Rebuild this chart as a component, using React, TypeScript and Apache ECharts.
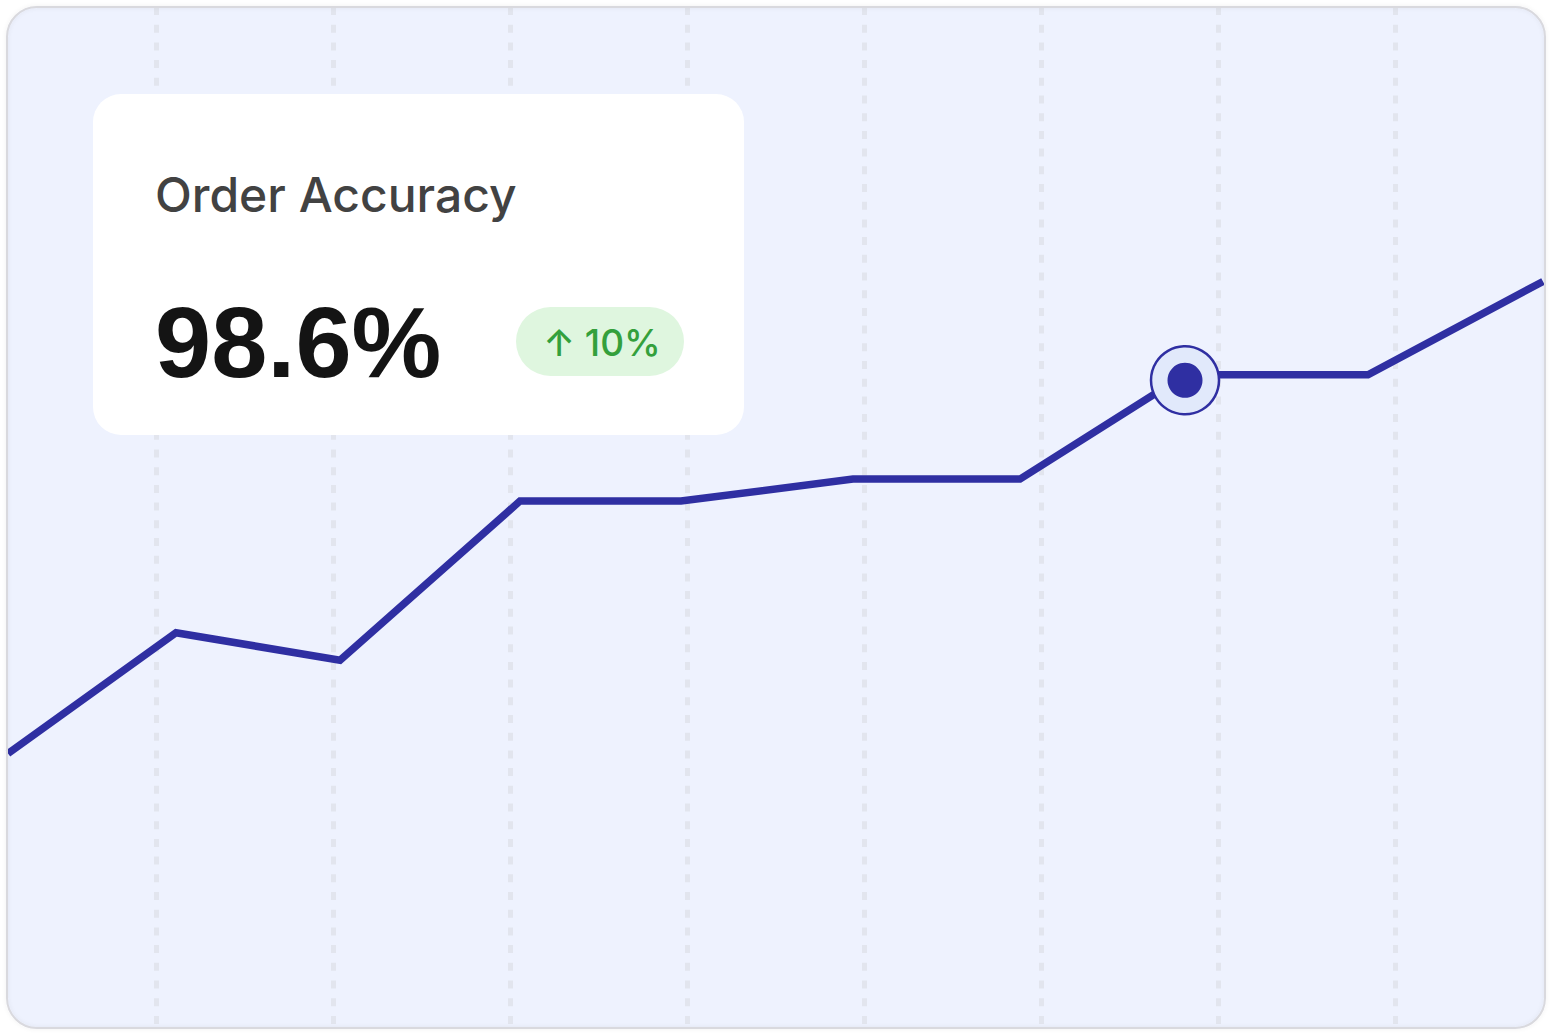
import * as echarts from 'echarts';
import { useEffect, useRef } from 'react';

// x position of each sample along the track, and the accuracy (%) at that point
const xs = [0, 168, 332, 512, 673, 845, 1012, 1177, 1360, 1535];
const accuracy = [90.0, 92.2, 91.7, 94.6, 94.6, 95.0, 95.0, 96.9, 96.9, 98.6];

// highlighted (hovered) sample
const highlightX = [1177];
const highlightY = [96.8];

// KPI card
const kpiTitle = 'Order Accuracy';
const kpiValue = '98.6%';
const kpiDelta = '↑ 10%';

const LINE = '#2F2FA2';

const App: React.FC = () => {
  const chartRef = useRef<HTMLDivElement>(null);

  useEffect(() => {
    if (!chartRef.current) return;
    const chart = echarts.init(chartRef.current, undefined, { renderer: 'svg' });

    const option = {
      animation: false,
      backgroundColor: '#ffffff',
      grid: [
        { left: 8, right: 8, top: 7, bottom: 7 },
        { left: 156, right: 156, top: 7, bottom: 7 },
      ],
      xAxis: [
        {
          type: 'value',
          gridIndex: 0,
          min: 0,
          max: 1535,
          show: false,
        },
        {
          type: 'value',
          gridIndex: 1,
          min: 0,
          max: 1239,
          interval: 177,
          axisLine: { show: false },
          axisTick: { show: false },
          axisLabel: { show: false },
          splitLine: {
            show: true,
            lineStyle: { color: '#E2E5EE', width: 5, type: [8, 9.7] },
          },
        },
      ],
      yAxis: [
        { type: 'value', gridIndex: 0, min: 85, max: 103.6, show: false },
        { type: 'value', gridIndex: 1, min: 0, max: 1, show: false },
      ],
      graphic: [
        {
          type: 'rect',
          z: -10,
          shape: { x: 7, y: 7, width: 1538, height: 1021, r: 30 },
          style: { fill: '#EEF2FE' },
        },
        {
          type: 'rect',
          z: 50,
          shape: { x: 7, y: 7, width: 1538, height: 1021, r: 30 },
          style: {
            fill: 'none',
            stroke: '#D9D9DE',
            lineWidth: 2,
            shadowBlur: 4,
            shadowColor: 'rgba(0,0,0,0.08)',
          },
        },
        {
          type: 'rect',
          z: 60,
          shape: { x: 93, y: 94, width: 651, height: 341, r: 28 },
          style: { fill: '#ffffff' },
        },
        {
          type: 'text',
          z: 61,
          x: 155,
          y: 194,
          style: {
            text: kpiTitle,
            font: '500 48px Inter',
            fill: '#424242',
            verticalAlign: 'middle',
          },
        },
        {
          type: 'text',
          z: 61,
          x: 155,
          y: 342,
          style: {
            text: kpiValue,
            font: 'bold 101px "Liberation Sans"',
            fill: '#141414',
            verticalAlign: 'middle',
          },
        },
        {
          type: 'rect',
          z: 61,
          shape: { x: 516, y: 307, width: 168, height: 69, r: 34.5 },
          style: { fill: '#DFF6DF' },
        },
        {
          type: 'text',
          z: 62,
          x: 602,
          y: 342,
          style: {
            text: kpiDelta,
            font: '500 37px Inter',
            fill: '#34A03C',
            align: 'center',
            verticalAlign: 'middle',
          },
        },
      ],
      series: [
        {
          type: 'line',
          xAxisIndex: 0,
          yAxisIndex: 0,
          data: xs.map((x, i) => [x, accuracy[i]]),
          symbol: 'none',
          lineStyle: { color: LINE, width: 7.5, join: 'miter' },
          z: 5,
        },
        {
          type: 'scatter',
          xAxisIndex: 0,
          yAxisIndex: 0,
          data: highlightX.map((x, i) => [x, highlightY[i]]),
          symbolSize: 68,
          itemStyle: { color: '#E1E9FB', borderColor: LINE, borderWidth: 2.5, opacity: 1 },
          z: 6,
        },
        {
          type: 'scatter',
          xAxisIndex: 0,
          yAxisIndex: 0,
          data: highlightX.map((x, i) => [x, highlightY[i]]),
          symbolSize: 35,
          itemStyle: { color: LINE, opacity: 1 },
          z: 7,
        },
      ],
    };

    chart.setOption(option);
    return () => {
      chart.dispose();
    };
  }, []);

  return (
    <div
      ref={chartRef}
      style={{ position: 'fixed', left: 0, top: 0, width: 1551, height: 1035 }}
    ></div>
  );
};

export default App;
